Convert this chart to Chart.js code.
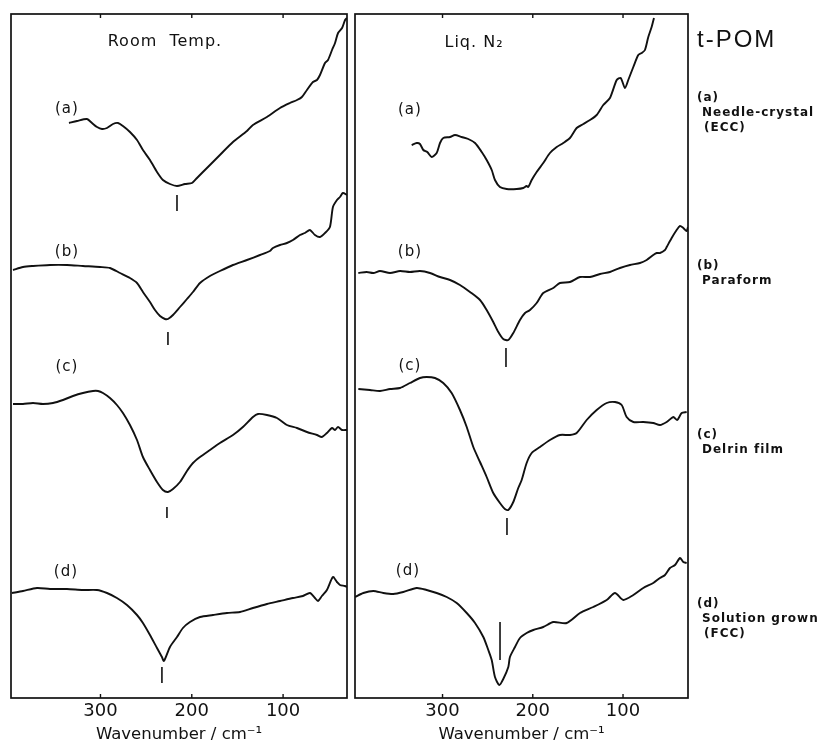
<!DOCTYPE html>
<html>
<head>
<meta charset="utf-8">
<script src="https://cdn.jsdelivr.net/npm/chart.js@4.4.1/dist/chart.umd.min.js"></script>
<style>
  html, body { margin: 0; padding: 0; background: #fff; }
  #wrap { position: relative; width: 840px; height: 744px; overflow: hidden; }
  #wrap canvas { position: absolute; left: 0; top: 0; }
  .title { position: absolute; left: 697px; top: 24px; font: 24px "Liberation Sans", sans-serif; letter-spacing: 2px; color: #111; line-height: 30px; }
  .side { position: absolute; left: 697px; font: bold 12px "DejaVu Sans", sans-serif; letter-spacing: 1px; color: #111; line-height: 15px; white-space: nowrap; }
  .side span { display: block; padding-left: 5px; }
  .side span.in { padding-left: 7px; }
</style>
</head>
<body>
<div id="wrap">
  <canvas id="room" width="840" height="744"></canvas>
  <canvas id="nitro" width="840" height="744"></canvas>
  <div class="title">t-POM</div>
  <div class="side" style="top:90px">(a)<span>Needle-crystal</span><span class="in">(ECC)</span></div>
  <div class="side" style="top:258px">(b)<span>Paraform</span></div>
  <div class="side" style="top:427px">(c)<span>Delrin film</span></div>
  <div class="side" style="top:596px">(d)<span>Solution grown</span><span class="in">(FCC)</span></div>
</div>
<script>
// wavenumber (cm-1), intensity (arb. units, curves stacked)
const xTicks = [300, 200, 100];

const roomA = [[334.5,57.5],[325.7,57.7],[314.8,57.9],[309.3,57.5],[303.8,57.1],[298.4,56.9],[292.9,57.0],[286.3,57.4],[280.8,57.5],[275.4,57.2],[267.7,56.6],[260,55.8],[253.5,54.8],[245.8,53.8],[238.1,52.6],[231.6,51.8],[223.9,51.4],[216.2,51.2],[207.5,51.4],[199.8,51.5],[194.3,52.0],[188.9,52.5],[180.1,53.3],[169.2,54.3],[154.9,55.6],[139.6,56.7],[133,57.3],[117.7,58.1],[103.4,59.0],[92.5,59.5],[84.8,59.8],[79.4,60.1],[73.9,60.8],[67.3,61.6],[62.9,61.8],[59.6,62.3],[54.1,63.5],[50.8,63.8],[46.4,64.8],[43.1,65.5],[39.8,66.5],[35.4,67.0],[32.1,67.8],[30,68.0]];
const roomB = [[395.8,42.8],[384.9,43.1],[373.9,43.2],[355.3,43.3],[336.7,43.3],[319.2,43.2],[300.5,43.1],[289.6,43.0],[278.6,42.5],[267.7,42.0],[260,41.5],[253.5,40.6],[245.8,39.6],[240.3,38.8],[234.8,38.2],[229.4,37.9],[226.1,37.9],[220.6,38.3],[212.9,39.1],[205.3,39.9],[198.7,40.6],[191,41.5],[180.1,42.2],[169.2,42.7],[154.9,43.3],[139.6,43.8],[125.3,44.3],[114.4,44.7],[111.1,45.0],[103.4,45.3],[95.8,45.5],[89.2,45.8],[81.5,46.3],[76.1,46.5],[70.6,46.8],[65.1,46.3],[59.6,46.1],[54.1,46.5],[48.7,47.1],[45.4,49.1],[41,49.8],[37.7,50.1],[34.5,50.5],[30,50.3]];
const roomC = [[395.8,29.4],[384.9,29.4],[373.9,29.5],[363,29.4],[352,29.5],[341.1,29.8],[330.1,30.2],[319.2,30.5],[308.2,30.7],[302.7,30.7],[297.3,30.5],[289.6,30.0],[282,29.3],[275.4,28.5],[267.7,27.3],[260,25.8],[253.5,24.1],[245.8,22.8],[238.1,21.6],[231.6,20.8],[226.1,20.6],[220.6,20.9],[212.9,21.6],[205.3,22.7],[198.7,23.5],[191,24.1],[180.1,24.8],[169.2,25.5],[154.9,26.3],[144,27.1],[133,28.1],[127.5,28.4],[117.7,28.3],[106.7,28.0],[95.8,27.3],[84.8,27.0],[73.9,26.6],[62.9,26.3],[57.5,26.1],[52,26.5],[46.4,27.0],[43.1,26.8],[39.8,27.1],[35.4,26.8],[30,26.8]];
const roomD = [[396.9,10.5],[384.9,10.7],[369.5,11.0],[355.3,10.9],[336.7,10.9],[319.2,10.8],[303.8,10.8],[292.9,10.5],[282,10.0],[271,9.3],[260,8.3],[253.5,7.5],[245.8,6.3],[238.1,5.0],[232.7,4.1],[230.5,3.7],[223.9,5.1],[216.2,6.1],[209.7,7.0],[202,7.6],[191,8.1],[176.8,8.3],[161.5,8.5],[147.2,8.6],[133,9.0],[117.7,9.4],[103.4,9.7],[89.2,10.0],[78.3,10.2],[70.6,10.5],[65.1,10.0],[61.8,9.7],[57.5,10.2],[52,10.8],[45.4,12.1],[41,11.6],[37.7,11.3],[32.3,11.2],[30,11.1]];

const nitroA = [[334.2,55.3],[328.6,55.5],[325,55.4],[321.3,54.8],[316.9,54.6],[312,54.1],[306.5,54.5],[302.8,55.5],[299.2,56.0],[291.7,56.1],[286.2,56.3],[278.8,56.1],[271.5,55.9],[264,55.5],[256.6,54.6],[251.1,53.8],[245.5,52.8],[241.9,51.8],[236.4,51.1],[228.9,50.9],[217.8,50.9],[210.5,51.0],[206.8,51.2],[205,51.1],[201.2,51.8],[195.7,52.6],[188.4,53.5],[181,54.5],[173.5,55.1],[166.2,55.5],[158.8,56.0],[151.4,57.0],[144,57.4],[136.6,57.8],[129.2,58.3],[121.9,59.3],[114.5,60.0],[107,61.8],[102.6,62.0],[97.8,61.0],[94.2,61.8],[88.6,63.1],[83.1,64.3],[79.3,64.5],[75.7,64.8],[72,66.1],[68.3,67.1],[65.7,68.0]];
const nitroB = [[393.3,42.5],[384,42.6],[376.7,42.5],[369.3,42.7],[358.2,42.5],[347.1,42.7],[336.1,42.6],[325,42.7],[313.9,42.5],[302.8,42.1],[291.7,41.8],[280.7,41.3],[269.6,40.6],[258.5,39.8],[251.1,38.8],[243.8,37.6],[238.2,36.6],[232.7,35.9],[227.1,35.8],[221.6,36.5],[214.2,37.8],[208.6,38.5],[203.1,38.8],[195.7,39.5],[188.4,40.5],[177.3,41.0],[169.9,41.5],[158.8,41.6],[147.7,42.1],[136.6,42.1],[125.5,42.4],[114.5,42.6],[103.4,43.0],[92.3,43.3],[81.2,43.5],[73.8,43.8],[66.5,44.3],[62.7,44.5],[59.1,44.5],[53.5,44.8],[51.6,45.1],[46.1,46.0],[40.6,46.8],[36.9,47.2],[33.2,47.0],[29.5,46.7],[28,47.1]];
const nitroC = [[393.3,30.9],[380.4,30.8],[369.3,30.7],[358.2,30.9],[347.1,31.0],[336.1,31.5],[325,32.0],[317.6,32.1],[308.4,32.0],[299.2,31.5],[289.9,30.5],[280.7,28.8],[273.2,27.1],[265.9,25.1],[258.5,23.6],[251.1,22.1],[243.8,20.5],[236.4,19.5],[230.9,18.9],[227.1,18.8],[221.6,19.6],[216.1,21.0],[212.3,21.8],[206.8,23.5],[201.2,24.5],[192,25.1],[181,25.8],[169.9,26.3],[158.8,26.3],[151.4,26.5],[140.3,27.8],[129.2,28.8],[118.1,29.5],[108.9,29.6],[101.5,29.3],[96,28.1],[88.6,27.6],[77.6,27.6],[66.5,27.5],[59.1,27.3],[51.6,27.6],[44.3,28.1],[39.9,27.8],[35,28.5],[29.5,28.6]];
const nitroD = [[397,10.1],[387.8,10.5],[376.7,10.7],[365.6,10.5],[354.6,10.4],[343.5,10.6],[328.6,11.0],[317.6,10.8],[306.5,10.5],[295.4,10.1],[284.3,9.5],[273.2,8.5],[264,7.5],[254.8,6.1],[249.3,4.8],[245.5,3.8],[241.9,2.1],[237.1,1.3],[232.7,1.9],[227.1,3.1],[225.3,4.1],[219.7,5.1],[214.2,6.0],[206.8,6.5],[199.4,6.8],[188.4,7.1],[177.3,7.6],[162.4,7.5],[147.7,8.5],[133,9.1],[118.1,9.8],[108.9,10.5],[99.7,9.8],[88.6,10.3],[77.6,11.0],[66.5,11.5],[59.1,12.0],[53.5,12.3],[48,13.0],[42.4,13.3],[36.9,14.0],[33.2,13.6],[29.5,13.5]];

// peak markers: [wavenumber, top, bottom]
const roomMarks = [[216.2,50.3,48.7],[226.1,36.6,35.3],[227.2,19.1,18.0],[232.7,3.1,1.5]];
const nitroMarks = [[229.7,35.0,33.1],[228.6,18.0,16.3],[236.3,7.6,3.8]];

const curveNames = ['(a)', '(b)', '(c)', '(d)'];

function curveSet(data) {
  return {
    data: data.map(([x, y]) => ({ x, y })),
    borderColor: '#111', borderWidth: 1.9, pointRadius: 0, tension: 0.25, fill: false
  };
}

function markSet([w, top, bottom]) {
  return {
    data: [{ x: w, y: top }, { x: w, y: bottom }],
    borderColor: '#111', borderWidth: 1.6, pointRadius: 0, tension: 0
  };
}

// box, inward ticks and in-plot labels
function frame(notes) {
  return {
    id: 'frame',
    afterDraw(chart) {
      const { ctx, chartArea: a, scales: { x, y } } = chart;
      ctx.save();
      ctx.strokeStyle = '#111';
      ctx.lineWidth = 1.7;
      ctx.strokeRect(a.left, a.top, a.right - a.left, a.bottom - a.top);
      ctx.lineWidth = 1.4;
      xTicks.forEach(v => {
        const px = x.getPixelForValue(v);
        ctx.beginPath();
        ctx.moveTo(px, a.top); ctx.lineTo(px, a.top + 4);
        ctx.moveTo(px, a.bottom); ctx.lineTo(px, a.bottom - 4);
        ctx.stroke();
      });
      ctx.fillStyle = '#111';
      ctx.textAlign = 'center';
      ctx.textBaseline = 'middle';
      notes.forEach(n => {
        ctx.font = n.font;
        ctx.letterSpacing = n.spacing || '0px';
        ctx.fillText(n.text, x.getPixelForValue(n.at[0]), y.getPixelForValue(n.at[1]));
      });
      ctx.restore();
    }
  };
}

function panel(id, curves, marks, range, pad, notes) {
  return new Chart(document.getElementById(id), {
    type: 'line',
    data: { datasets: [...curves.map(curveSet), ...marks.map(markSet)] },
    options: {
      responsive: false,
      animation: false,
      events: [],
      layout: { padding: pad },
      plugins: { legend: { display: false }, tooltip: { enabled: false } },
      scales: {
        x: {
          type: 'linear', reverse: true, min: range[0], max: range[1],
          afterBuildTicks: s => { s.ticks = xTicks.map(value => ({ value })); },
          afterFit: s => { s.height = 46; },
          grid: { display: false, drawTicks: false, tickLength: 0 },
          border: { display: false },
          ticks: { color: '#111', font: { family: 'DejaVu Sans', size: 18 }, padding: 3, maxRotation: 0, autoSkip: false },
          title: { display: true, text: 'Wavenumber / cm⁻¹', color: '#111',
                   font: { family: 'DejaVu Sans', size: 16.5, lineHeight: 1.1 }, padding: { top: 0, bottom: 0 } }
        },
        y: { display: false, min: 0, max: 68.4 }
      }
    },
    plugins: [frame(notes)]
  });
}

const labelFont = '15px "DejaVu Sans"';
const headFont = '16px "DejaVu Sans"';

panel('room', [roomA, roomB, roomC, roomD], roomMarks, [30, 398],
  { left: 11, right: 493, top: 14, bottom: 0 },
  [
    { text: 'Room  Temp.', at: [229.4, 65.6], font: headFont, spacing: '1px' },
    { text: curveNames[0], at: [336.7, 58.9], font: labelFont, spacing: '1px' },
    { text: curveNames[1], at: [336.7, 44.6], font: labelFont, spacing: '1px' },
    { text: curveNames[2], at: [336.7, 33.1], font: labelFont, spacing: '1px' },
    { text: curveNames[3], at: [337.8, 12.6], font: labelFont, spacing: '1px' }
  ]);

panel('nitro', [nitroA, nitroB, nitroC, nitroD], nitroMarks, [28, 397],
  { left: 355, right: 152, top: 14, bottom: 0 },
  [
    { text: 'Liq. N₂', at: [265.1, 65.5], font: headFont, spacing: '1px' },
    { text: curveNames[0], at: [336.1, 58.8], font: labelFont, spacing: '1px' },
    { text: curveNames[1], at: [336.1, 44.6], font: labelFont, spacing: '1px' },
    { text: curveNames[2], at: [336.1, 33.2], font: labelFont, spacing: '1px' },
    { text: curveNames[3], at: [338.3, 12.7], font: labelFont, spacing: '1px' }
  ]);
</script>
</body>
</html>
